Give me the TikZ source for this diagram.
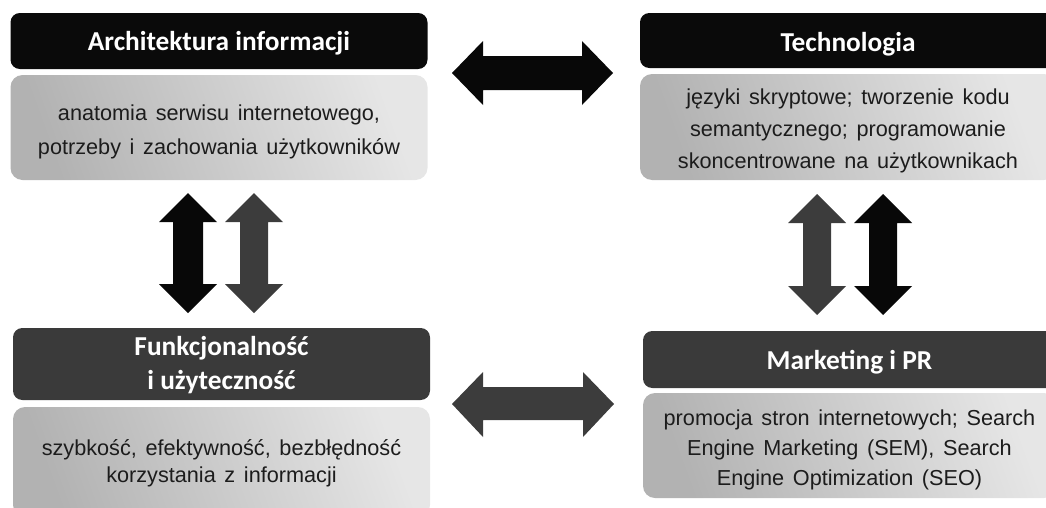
\documentclass[tikz,border=0pt]{standalone}
\usepackage{fontspec}
\setmainfont{Liberation Sans}
\newfontfamily\headfont{Carlito}
\definecolor{headblack}{HTML}{0A0A0A}
\definecolor{headgray}{HTML}{3A3A3A}
\definecolor{arrowblack}{HTML}{080808}
\definecolor{arrowgray}{HTML}{3C3C3C}
\definecolor{boxdark}{HTML}{B2B2B2}
\definecolor{boxlight}{HTML}{E6E6E6}
\definecolor{textgray}{HTML}{1C1C1C}
\begin{document}
\begin{tikzpicture}[x=0.75pt,y=-0.75pt,
  headbox/.style={rectangle, rounded corners=7pt, inner sep=0pt},
  headtext/.style={text=white, inner sep=0pt, align=center,
    font=\headfont\bfseries\fontsize{20.5}{25.5}\selectfont},
  infobox/.style={rectangle, rounded corners=9pt, left color=boxdark, right color=boxlight,
    shading angle=110, inner sep=0pt},
  infotext/.style={text=textgray, inner sep=0pt, align=center,
    font={\fontsize{16.25}{#1}\selectfont\spaceskip=0.4em plus 0.1em\relax}},
  bigarrowblack/.style={fill=arrowblack},
  bigarrowgray/.style={fill=arrowgray}]
\useasboundingbox (0,0) rectangle (1046,507);
\clip (0,0) rectangle (1046,507);

% top left
\node[headbox, fill=headblack, minimum width=312.75pt, minimum height=42pt] (aih) at (219,41) {};
\node[headtext] (aiht) at ([yshift=-2pt]aih.center) {Architektura informacji};
\node[infobox, minimum width=312.75pt, minimum height=78.75pt] (aib) at (219,127.5) {};
\node[infotext=25.5pt] (aibt) at ([yshift=-3.5pt]aib.center)
  {anatomia serwisu internetowego,\\potrzeby i zachowania użytkowników};

% top right
\node[headbox, fill=headblack, minimum width=312pt, minimum height=41.25pt] (teh) at (848,40.5) {};
\node[headtext] (teht) at ([yshift=-2.5pt]teh.center) {Technologia};
\node[infobox, minimum width=312pt, minimum height=79.5pt] (teb) at (848,127) {};
\node[infotext=24pt] (tebt) at ([yshift=-3pt]teb.center)
  {języki skryptowe; tworzenie kodu\\semantycznego; programowanie\\skoncentrowane na użytkownikach};

% bottom left
\node[headbox, fill=headgray, minimum width=312.75pt, minimum height=54pt] (fuh) at (221.5,364) {};
\node[headtext] (fuht) at ([yshift=-1pt]fuh.center) {Funkcjonalność\\i użyteczność};
\node[infobox, minimum width=312.75pt, minimum height=82.5pt] (fub) at (221.5,462) {};
\node[infotext=20.5pt] (fubt) at ([yshift=-1pt]fub.center)
  {szybkość, efektywność, bezbłędność\\korzystania z informacji};

% bottom right
\node[headbox, fill=headgray, minimum width=309.75pt, minimum height=42.75pt] (mah) at (849.5,359.5) {};
\node[headtext] (maht) at ([yshift=-2pt]mah.center) {Marketing i PR};
\node[infobox, minimum width=309.75pt, minimum height=78.75pt] (mab) at (849.5,445.5) {};
\node[infotext=22.5pt] (mabt) at ([yshift=-3.5pt]mab.center)
  {promocja stron internetowych; Search\\Engine Marketing (SEM), Search\\Engine Optimization (SEO)};

% horizontal arrows
\fill[bigarrowblack] (452,73) -- (483,41) -- (483,56) -- (582,56) -- (582,41) -- (613,73)
  -- (582,105) -- (582,90) -- (483,90) -- (483,105) -- cycle;
\fill[bigarrowgray] (452,404) -- (483,372) -- (483,387) -- (583,387) -- (583,372) -- (614,404)
  -- (583,437) -- (583,420) -- (483,420) -- (483,437) -- cycle;

% left vertical arrows
\fill[bigarrowblack] (188,193) -- (217,222) -- (203,222) -- (203,284) -- (217,284) -- (188,313)
  -- (159,284) -- (173,284) -- (173,222) -- (159,222) -- cycle;
\fill[bigarrowgray] (254,193) -- (283,222) -- (268,222) -- (268,284) -- (283,284) -- (254,313)
  -- (225,284) -- (240,284) -- (240,222) -- (225,222) -- cycle;

% right vertical arrows
\fill[bigarrowgray] (817,194) -- (846,223) -- (831,223) -- (831,286) -- (846,286) -- (817,315)
  -- (788,286) -- (803,286) -- (803,223) -- (788,223) -- cycle;
\fill[bigarrowblack] (883,194) -- (912,223) -- (897,223) -- (897,286) -- (912,286) -- (883,315)
  -- (854,286) -- (869,286) -- (869,223) -- (854,223) -- cycle;
\end{tikzpicture}
\end{document}
